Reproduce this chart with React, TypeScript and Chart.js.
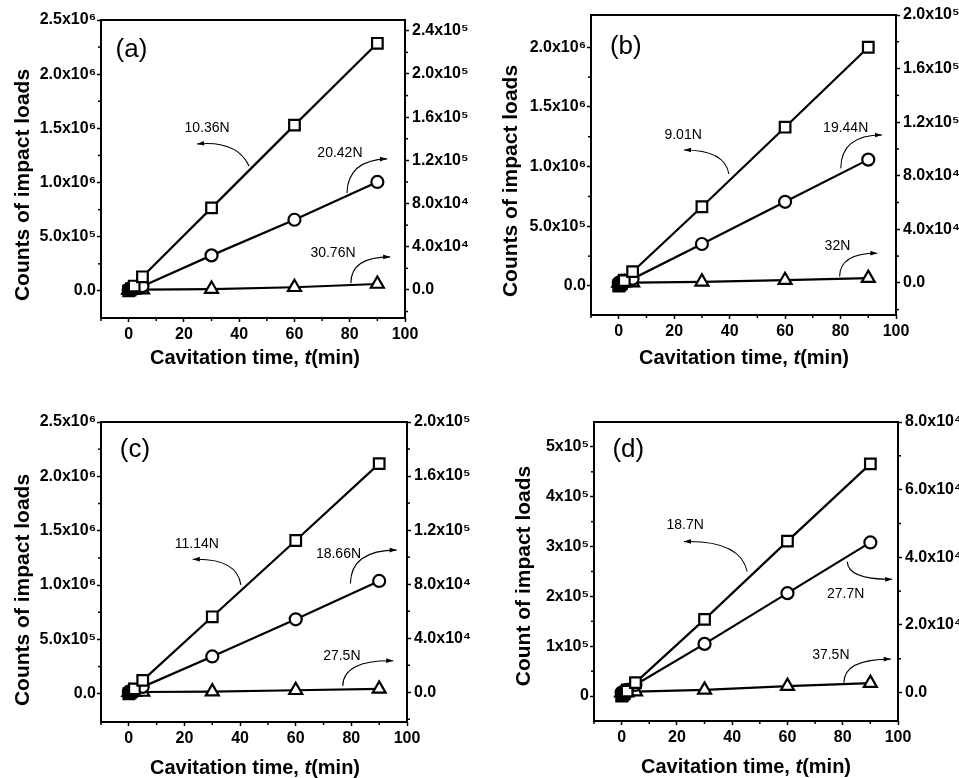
import React, { useEffect, useRef } from "react";
import { Chart, registerables } from "chart.js";

Chart.register(...registerables);

// ---------- data ----------
const timeMin = [0, 0.5, 1, 2, 5, 30, 60, 90];

const xTickValues = [0, 20, 40, 60, 80, 100];
const xTickLabels = ["0", "20", "40", "60", "80", "100"];
const xMinorTicks = [-10, 10, 30, 50, 70, 90];

// panel (a)
const aSquares = [0, 8e3, 2e4, 4.5e4, 1.3e5, 7.66e5, 1.53e6, 2.285e6];
const aCircles = [0, 300, 800, 1600, 3500, 3.2e4, 6.5e4, 1.0e5];
const aTriangles = [0, 20, 40, 80, 200, 800, 2500, 5500];
const aLoads = ["10.36N", "20.42N", "30.76N"];
const aLeftTicks = [0, 5e5, 1e6, 1.5e6, 2e6, 2.5e6];
const aLeftLabels = ["0.0", "5.0x10⁵", "1.0x10⁶", "1.5x10⁶", "2.0x10⁶", "2.5x10⁶"];
const aLeftMinor = [2.5e5, 7.5e5, 1.25e6, 1.75e6, 2.25e6];
const aRightTicks = [0, 4e4, 8e4, 1.2e5, 1.6e5, 2.0e5, 2.4e5];
const aRightLabels = ["0.0", "4.0x10⁴", "8.0x10⁴", "1.2x10⁵", "1.6x10⁵", "2.0x10⁵", "2.4x10⁵"];
const aRightMinor = [-2e4, 2e4, 6e4, 1e5, 1.4e5, 1.8e5, 2.2e5];

// panel (b)
const bSquares = [0, 8e3, 2e4, 4.5e4, 1.2e5, 6.64e5, 1.33e6, 2.0e6];
const bCircles = [0, 300, 800, 1600, 3000, 2.9e4, 6.05e4, 9.2e4];
const bTriangles = [0, 20, 40, 80, 200, 800, 2000, 3500];
const bLoads = ["9.01N", "19.44N", "32N"];
const bLeftTicks = [0, 5e5, 1e6, 1.5e6, 2e6];
const bLeftLabels = ["0.0", "5.0x10⁵", "1.0x10⁶", "1.5x10⁶", "2.0x10⁶"];
const bLeftMinor = [2.5e5, 7.5e5, 1.25e6, 1.75e6];
const bRightTicks = [0, 4e4, 8e4, 1.2e5, 1.6e5, 2.0e5];
const bRightLabels = ["0.0", "4.0x10⁴", "8.0x10⁴", "1.2x10⁵", "1.6x10⁵", "2.0x10⁵"];
const bRightMinor = [-2e4, 2e4, 6e4, 1e5, 1.4e5, 1.8e5];

// panel (c)
const cSquares = [0, 8e3, 2e4, 4.5e4, 1.23e5, 7.08e5, 1.41e6, 2.117e6];
const cCircles = [0, 300, 800, 1600, 4000, 2.65e4, 5.4e4, 8.24e4];
const cTriangles = [0, 20, 40, 80, 200, 500, 1500, 2500];
const cLoads = ["11.14N", "18.66N", "27.5N"];
const cLeftTicks = [0, 5e5, 1e6, 1.5e6, 2e6, 2.5e6];
const cLeftLabels = ["0.0", "5.0x10⁵", "1.0x10⁶", "1.5x10⁶", "2.0x10⁶", "2.5x10⁶"];
const cLeftMinor = [2.5e5, 7.5e5, 1.25e6, 1.75e6, 2.25e6];
const cRightTicks = [0, 4e4, 8e4, 1.2e5, 1.6e5, 2.0e5];
const cRightLabels = ["0.0", "4.0x10⁴", "8.0x10⁴", "1.2x10⁵", "1.6x10⁵", "2.0x10⁵"];
const cRightMinor = [-2e4, 2e4, 6e4, 1e5, 1.4e5, 1.8e5];

// panel (d)
const dSquares = [0, 2e3, 5e3, 1e4, 2.7e4, 1.54e5, 3.11e5, 4.66e5];
const dCircles = [0, 100, 300, 800, 2300, 1.44e4, 2.94e4, 4.44e4];
const dTriangles = [0, 10, 30, 60, 300, 800, 1900, 2800];
const dLoads = ["18.7N", "27.7N", "37.5N"];
const dLeftTicks = [0, 1e5, 2e5, 3e5, 4e5, 5e5];
const dLeftLabels = ["0", "1x10⁵", "2x10⁵", "3x10⁵", "4x10⁵", "5x10⁵"];
const dLeftMinor = [5e4, 1.5e5, 2.5e5, 3.5e5, 4.5e5];
const dRightTicks = [0, 2e4, 4e4, 6e4, 8e4];
const dRightLabels = ["0.0", "2.0x10⁴", "4.0x10⁴", "6.0x10⁴", "8.0x10⁴"];
const dRightMinor = [1e4, 3e4, 5e4, 7e4];

// ---------- layout / style ----------
const FONT = "'Liberation Sans', Arial, Helvetica, sans-serif";

type Axis = { min: number; max: number; ticks: number[]; labels: string[]; minor: number[] };
type Spec = {
  tag: string;
  squares: number[];
  circles: number[];
  triangles: number[];
  loads: string[];
  yTitle: string;
  left: Axis;
  right: Axis;
  box: { x: number; y: number; w: number; h: number };
  area: { left: number; right: number; top: number; bottom: number };
  tagPos: number[];
  loadPos: number[][];
  arrows: number[][];
  yTitlePos: number[];
  xTitlePos: number[];
};

const panels: Spec[] = [
  {
    tag: "(a)",
    squares: aSquares, circles: aCircles, triangles: aTriangles, loads: aLoads,
    yTitle: "Counts of impact loads",
    left: { min: -2.5e5, max: 2.5e6, ticks: aLeftTicks, labels: aLeftLabels, minor: aLeftMinor },
    right: { min: -2.6e4, max: 2.5e5, ticks: aRightTicks, labels: aRightLabels, minor: aRightMinor },
    box: { x: 0, y: 0, w: 480, h: 390 },
    area: { left: 101, right: 405, top: 20, bottom: 318 },
    tagPos: [0.1, 0.1],
    loadPos: [[0.349, 0.362], [0.786, 0.446], [0.763, 0.782]],
    arrows: [
      [0.487, 0.49, 0.447, 0.403, 0.316, 0.416],
      [0.809, 0.581, 0.812, 0.47, 0.941, 0.466],
      [0.822, 0.883, 0.822, 0.795, 0.951, 0.795],
    ],
    yTitlePos: [23, 185],
    xTitlePos: [255, 358],
  },
  {
    tag: "(b)",
    squares: bSquares, circles: bCircles, triangles: bTriangles, loads: bLoads,
    yTitle: "Counts of impact loads",
    left: { min: -2.43e5, max: 2.27e6, ticks: bLeftTicks, labels: bLeftLabels, minor: bLeftMinor },
    right: { min: -2.4e4, max: 2.0e5, ticks: bRightTicks, labels: bRightLabels, minor: bRightMinor },
    box: { x: 480, y: 0, w: 479, h: 390 },
    area: { left: 111, right: 416, top: 15, bottom: 315 },
    tagPos: [0.114, 0.106],
    loadPos: [[0.302, 0.402], [0.835, 0.378], [0.808, 0.772]],
    arrows: [
      [0.452, 0.53, 0.439, 0.45, 0.305, 0.45],
      [0.819, 0.511, 0.82, 0.4, 0.954, 0.4],
      [0.815, 0.872, 0.816, 0.793, 0.939, 0.794],
    ],
    yTitlePos: [31, 181],
    xTitlePos: [264, 358],
  },
  {
    tag: "(c)",
    squares: cSquares, circles: cCircles, triangles: cTriangles, loads: cLoads,
    yTitle: "Counts of impact loads",
    left: { min: -2.6e5, max: 2.5e6, ticks: cLeftTicks, labels: cLeftLabels, minor: cLeftMinor },
    right: { min: -2.2e4, max: 2.0e5, ticks: cRightTicks, labels: cRightLabels, minor: cRightMinor },
    box: { x: 0, y: 390, w: 480, h: 388 },
    area: { left: 101, right: 407, top: 32, bottom: 332 },
    tagPos: [0.111, 0.093],
    loadPos: [[0.313, 0.407], [0.776, 0.44], [0.787, 0.782]],
    arrows: [
      [0.457, 0.543, 0.444, 0.453, 0.3, 0.458],
      [0.815, 0.538, 0.817, 0.427, 0.966, 0.427],
      [0.79, 0.88, 0.791, 0.793, 0.955, 0.796],
    ],
    yTitlePos: [23, 200],
    xTitlePos: [255, 378],
  },
  {
    tag: "(d)",
    squares: dSquares, circles: dCircles, triangles: dTriangles, loads: dLoads,
    yTitle: "Count of impact loads",
    left: { min: -5e4, max: 5.5e5, ticks: dLeftTicks, labels: dLeftLabels, minor: dLeftMinor },
    right: { min: -8.4e3, max: 8e4, ticks: dRightTicks, labels: dRightLabels, minor: dRightMinor },
    box: { x: 480, y: 390, w: 479, h: 388 },
    area: { left: 114, right: 418, top: 32, bottom: 331 },
    tagPos: [0.113, 0.094],
    loadPos: [[0.3, 0.344], [0.828, 0.575], [0.779, 0.779]],
    arrows: [
      [0.504, 0.5, 0.48, 0.395, 0.296, 0.4],
      [0.833, 0.467, 0.836, 0.528, 0.981, 0.526],
      [0.822, 0.872, 0.822, 0.793, 0.976, 0.793],
    ],
    yTitlePos: [44, 186],
    xTitlePos: [266, 377],
  },
];

function drawArrow(ctx: CanvasRenderingContext2D, x0: number, y0: number, cx: number, cy: number, x1: number, y1: number) {
  ctx.beginPath();
  ctx.moveTo(x0, y0);
  ctx.quadraticCurveTo(cx, cy, x1, y1);
  ctx.lineWidth = 1.1;
  ctx.stroke();
  const ang = Math.atan2(y1 - cy, x1 - cx);
  const L = 7, w = 2.3;
  const bx = x1 - L * Math.cos(ang), by = y1 - L * Math.sin(ang);
  ctx.beginPath();
  ctx.moveTo(x1, y1);
  ctx.lineTo(bx + w * Math.sin(ang), by - w * Math.cos(ang));
  ctx.lineTo(bx - w * Math.sin(ang), by + w * Math.cos(ang));
  ctx.closePath();
  ctx.fill();
}

function makeConfig(p: Spec): any {
  const W = p.box.w, H = p.box.h;
  const tickFont = { family: FONT, size: 16, weight: "bold" as const };
  const grid = {
    display: true, drawOnChartArea: false, drawTicks: true,
    tickLength: 4, tickWidth: 1.5, tickColor: "#000", color: "#000",
  };
  const ds = (vals: number[], style: string, r: number, axis: string) => ({
    data: timeMin.map((t, i) => ({ x: t, y: vals[i] })),
    yAxisID: axis,
    showLine: true,
    borderColor: "#000",
    borderWidth: 2.2,
    backgroundColor: "#fff",
    pointStyle: style,
    pointRadius: r,
    pointBorderWidth: 2.2,
    pointBackgroundColor: (c: any) => (c.raw && c.raw.x < 2 ? "#000" : "#fff"),
    pointBorderColor: "#000",
    tension: 0,
    fill: false,
    clip: false,
  });

  const decor = {
    id: "decor" + p.tag,
    afterDraw(chart: any) {
      const ctx: CanvasRenderingContext2D = chart.ctx;
      const a = chart.chartArea;
      const aw = a.right - a.left, ah = a.bottom - a.top;
      const fx = (f: number) => a.left + f * aw;
      const fy = (f: number) => a.top + f * ah;
      ctx.save();
      ctx.strokeStyle = "#000";
      ctx.fillStyle = "#000";
      ctx.lineWidth = 2;
      ctx.strokeRect(a.left, a.top, aw, ah);

      // minor ticks
      ctx.lineWidth = 1.5;
      const seg = (x0: number, y0: number, x1: number, y1: number) => {
        ctx.beginPath(); ctx.moveTo(x0, y0); ctx.lineTo(x1, y1); ctx.stroke();
      };
      xMinorTicks.forEach((v) => {
        const px = chart.scales.x.getPixelForValue(v);
        seg(px, a.bottom, px, a.bottom + 3);
      });
      p.left.minor.forEach((v) => {
        const py = chart.scales.yL.getPixelForValue(v);
        seg(a.left - 3, py, a.left, py);
      });
      p.right.minor.forEach((v) => {
        const py = chart.scales.yR.getPixelForValue(v);
        seg(a.right, py, a.right + 3, py);
      });

      // panel tag
      ctx.textAlign = "center";
      ctx.textBaseline = "middle";
      ctx.font = `26px ${FONT}`;
      ctx.fillText(p.tag, fx(p.tagPos[0]), fy(p.tagPos[1]));

      // load labels + arrows
      ctx.font = `14px ${FONT}`;
      p.loads.forEach((s, i) => ctx.fillText(s, fx(p.loadPos[i][0]), fy(p.loadPos[i][1])));
      p.arrows.forEach((q) => drawArrow(ctx, fx(q[0]), fy(q[1]), fx(q[2]), fy(q[3]), fx(q[4]), fy(q[5])));

      // y title
      ctx.save();
      ctx.translate(p.yTitlePos[0], p.yTitlePos[1]);
      ctx.rotate(-Math.PI / 2);
      ctx.font = `bold 21px ${FONT}`;
      ctx.fillText(p.yTitle, 0, 0);
      ctx.restore();

      // x title with italic t
      const parts: [string, string][] = [
        ["Cavitation time, ", `bold 20px ${FONT}`],
        ["t", `italic bold 20px ${FONT}`],
        ["(min)", `bold 20px ${FONT}`],
      ];
      let total = 0;
      parts.forEach(([s, f]) => { ctx.font = f; total += ctx.measureText(s).width; });
      let x = p.xTitlePos[0] - total / 2;
      ctx.textAlign = "left";
      parts.forEach(([s, f]) => {
        ctx.font = f;
        ctx.fillText(s, x, p.xTitlePos[1]);
        x += ctx.measureText(s).width;
      });
      ctx.restore();
    },
  };

  const yAxis = (ax: Axis, pos: "left" | "right", width: number, pad: number) => ({
    type: "linear",
    position: pos,
    min: ax.min,
    max: ax.max,
    afterBuildTicks: (s: any) => { s.ticks = ax.ticks.map((v) => ({ value: v })); },
    afterFit: (s: any) => { s.width = width; s.paddingTop = 0; s.paddingBottom = 0; },
    ticks: {
      callback: (v: number) => ax.labels[ax.ticks.indexOf(v)] ?? "",
      font: tickFont, color: "#000", padding: pad, autoSkip: false,
    },
    grid,
    border: { display: false },
  });

  return {
    type: "scatter",
    data: {
      datasets: [
        ds(p.squares, "rect", 7.5, "yL"),
        ds(p.circles, "circle", 6, "yR"),
        ds(p.triangles, "triangle", 7.5, "yR"),
      ],
    },
    options: {
      animation: false,
      responsive: false,
      devicePixelRatio: 1,
      events: [],
      layout: { padding: { top: p.area.top, left: 0, right: 0, bottom: 0 } },
      plugins: { legend: { display: false }, tooltip: { enabled: false } },
      scales: {
        x: {
          type: "linear",
          position: "bottom",
          min: -10,
          max: 100,
          afterBuildTicks: (s: any) => { s.ticks = xTickValues.map((v) => ({ value: v })); },
          afterFit: (s: any) => { s.height = H - p.area.bottom; s.paddingLeft = 0; s.paddingRight = 0; },
          ticks: {
            callback: (v: number) => xTickLabels[xTickValues.indexOf(v)] ?? "",
            font: tickFont, color: "#000", padding: 3, maxRotation: 0, autoSkip: false,
          },
          grid,
          border: { display: false },
        },
        yL: yAxis(p.left, "left", p.area.left, 1),
        yR: yAxis(p.right, "right", W - p.area.right, 3),
      },
    },
    plugins: [decor],
  };
}

function Panel({ spec }: { spec: Spec }) {
  const ref = useRef<HTMLCanvasElement>(null);
  useEffect(() => {
    const chart = new Chart(ref.current as HTMLCanvasElement, makeConfig(spec));
    return () => chart.destroy();
  }, [spec]);
  return (
    <canvas
      ref={ref}
      width={spec.box.w}
      height={spec.box.h}
      style={{ position: "absolute", left: spec.box.x, top: spec.box.y, width: spec.box.w, height: spec.box.h }}
    />
  );
}

export default function App() {
  return (
    <div style={{ position: "absolute", left: 0, top: 0, width: 959, height: 778, background: "#fff", overflow: "hidden" }}>
      {panels.map((p) => (
        <Panel key={p.tag} spec={p} />
      ))}
    </div>
  );
}
